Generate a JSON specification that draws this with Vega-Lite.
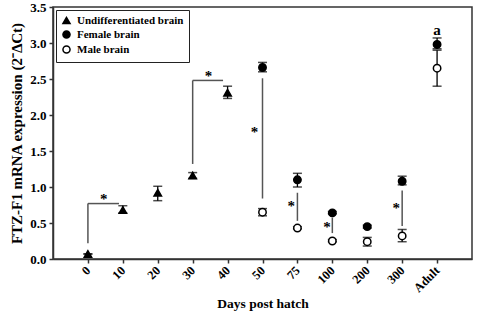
{
  "$schema": "https://vega.github.io/schema/vega-lite/v6.json",
  "autosize": "none",
  "width": 419,
  "height": 252,
  "padding": {"left": 53, "top": 7, "right": 8, "bottom": 55},
  "background": "white",
  "config": {
    "view": {"stroke": "#333", "strokeWidth": 1.5},
    "font": "Liberation Serif",
    "axis": {"labelFont": "Liberation Serif", "titleFont": "Liberation Serif", "labelFontWeight": "bold", "titleFontWeight": "bold", "labelColor": "black", "titleColor": "black", "domainColor": "#333", "domainWidth": 1.5, "tickColor": "#333", "tickWidth": 1.5, "tickSize": 4, "grid": false, "labelOverlap": false},
    "legend": {"labelFont": "Liberation Serif", "labelFontWeight": "bold", "labelFontSize": 11, "labelColor": "black", "strokeColor": "#222", "fillColor": "white", "padding": 5, "rowPadding": 0, "symbolSize": 50, "symbolStrokeWidth": 1.5, "labelOffset": 5}
  },
  "datasets": {
    "pts": [
      {"idx": 0, "series": "Undifferentiated brain", "value": 0.07, "lo": 0.07, "hi": 0.07},
      {"idx": 1, "series": "Undifferentiated brain", "value": 0.68, "lo": 0.64, "hi": 0.74},
      {"idx": 2, "series": "Undifferentiated brain", "value": 0.92, "lo": 0.81, "hi": 1.01},
      {"idx": 3, "series": "Undifferentiated brain", "value": 1.16, "lo": 1.12, "hi": 1.2},
      {"idx": 4, "series": "Undifferentiated brain", "value": 2.31, "lo": 2.23, "hi": 2.4},
      {"idx": 5, "series": "Female brain", "value": 2.66, "lo": 2.6, "hi": 2.73},
      {"idx": 6, "series": "Female brain", "value": 1.1, "lo": 1.0, "hi": 1.19},
      {"idx": 7, "series": "Female brain", "value": 0.64, "lo": 0.63, "hi": 0.66},
      {"idx": 8, "series": "Female brain", "value": 0.45, "lo": 0.43, "hi": 0.47},
      {"idx": 9, "series": "Female brain", "value": 1.08, "lo": 1.03, "hi": 1.15},
      {"idx": 10, "series": "Female brain", "value": 2.98, "lo": 2.92, "hi": 3.07},
      {"idx": 5, "series": "Male brain", "value": 0.65, "lo": 0.6, "hi": 0.7},
      {"idx": 6, "series": "Male brain", "value": 0.43, "lo": 0.42, "hi": 0.45},
      {"idx": 7, "series": "Male brain", "value": 0.25, "lo": 0.24, "hi": 0.27},
      {"idx": 8, "series": "Male brain", "value": 0.24, "lo": 0.18, "hi": 0.3},
      {"idx": 9, "series": "Male brain", "value": 0.32, "lo": 0.24, "hi": 0.41},
      {"idx": 10, "series": "Male brain", "value": 2.65, "lo": 2.4, "hi": 2.9}
    ],
    "sig": [
      {"x1": 0, "x2": 0, "y1": 0.22, "y2": 0.77},
      {"x1": 0, "x2": 0.89, "y1": 0.77, "y2": 0.77},
      {"x1": 3, "x2": 3, "y1": 1.32, "y2": 2.48},
      {"x1": 3, "x2": 3.87, "y1": 2.48, "y2": 2.48},
      {"x1": 5, "x2": 5, "y1": 0.84, "y2": 2.51},
      {"x1": 6, "x2": 6, "y1": 0.53, "y2": 0.92},
      {"x1": 7, "x2": 7, "y1": 0.36, "y2": 0.57},
      {"x1": 9, "x2": 9, "y1": 0.46, "y2": 0.95}
    ],
    "labels": [
      {"x": 0.45, "y": 0.83, "text": "*"},
      {"x": 3.45, "y": 2.54, "text": "*"},
      {"x": 4.77, "y": 1.77, "text": "*"},
      {"x": 5.82, "y": 0.73, "text": "*"},
      {"x": 6.85, "y": 0.45, "text": "*"},
      {"x": 8.83, "y": 0.71, "text": "*"},
      {"x": 10, "y": 3.18, "text": "a"}
    ]
  },
  "encoding": {
    "x": {"type": "quantitative", "scale": {"domain": [-1, 11], "nice": false, "zero": false},
      "axis": {"title": "Days post hatch", "titleFontSize": 13.5, "titlePadding": 2, "values": [0,1,2,3,4,5,6,7,8,9,10],
        "labelExpr": "['0','10','20','30','40','50','75','100','200','300','Adult'][datum.value]",
        "labelAngle": -45, "labelAlign": "right", "labelBaseline": "middle", "labelFontSize": 12.5, "labelPadding": 5}},
    "y": {"type": "quantitative", "scale": {"domain": [0, 3.5], "nice": false},
      "axis": {"title": "FTZ-F1 mRNA expression (2⁻ΔCt)", "titleFontSize": 15, "titlePadding": 5, "values": [0,0.5,1,1.5,2,2.5,3,3.5], "format": ".1f", "labelFontSize": 13, "labelPadding": 3}}
  },
  "layer": [
    {
      "data": {"name": "sig"},
      "mark": {"type": "rule", "color": "#555", "strokeWidth": 1.5},
      "encoding": {
        "x": {"field": "x1"},
        "x2": {"field": "x2"},
        "y": {"field": "y1"},
        "y2": {"field": "y2"}
      }
    },
    {
      "data": {"name": "pts"},
      "mark": {"type": "rule", "color": "black", "strokeWidth": 1.3},
      "encoding": {
        "x": {"field": "idx"},
        "y": {"field": "lo"},
        "y2": {"field": "hi"}
      }
    },
    {
      "data": {"name": "pts"},
      "mark": {"type": "tick", "color": "black", "orient": "horizontal", "size": 9, "thickness": 1.5},
      "encoding": {
        "x": {"field": "idx"},
        "y": {"field": "lo"}
      }
    },
    {
      "data": {"name": "pts"},
      "mark": {"type": "tick", "color": "black", "orient": "horizontal", "size": 9, "thickness": 1.5},
      "encoding": {
        "x": {"field": "idx"},
        "y": {"field": "hi"}
      }
    },
    {
      "data": {"name": "pts"},
      "mark": {"type": "point", "filled": false, "color": "black", "strokeWidth": 1.5, "size": 55, "opacity": 1},
      "encoding": {
        "x": {"field": "idx"},
        "y": {"field": "value"},
        "shape": {"field": "series", "type": "nominal",
          "scale": {"domain": ["Undifferentiated brain", "Female brain", "Male brain"], "range": ["triangle-up", "circle", "circle"]},
          "legend": {"title": null, "orient": "top-left", "offset": 3,
            "encode": {"legend": {"update": {"stroke": {"value": "#222"}, "strokeWidth": {"value": 1.5}, "fill": {"value": "white"}}}}}},
        "fill": {"field": "series", "type": "nominal",
          "scale": {"domain": ["Undifferentiated brain", "Female brain", "Male brain"], "range": ["black", "black", "white"]},
          "legend": {"title": null, "orient": "top-left", "offset": 3}}
      }
    },
    {
      "data": {"name": "labels"},
      "mark": {"type": "text", "font": "Liberation Serif", "fontSize": 15, "fontWeight": "bold", "fill": "black", "color": "black", "baseline": "middle"},
      "encoding": {
        "x": {"field": "x"},
        "y": {"field": "y"},
        "text": {"field": "text"}
      }
    }
  ]
}
